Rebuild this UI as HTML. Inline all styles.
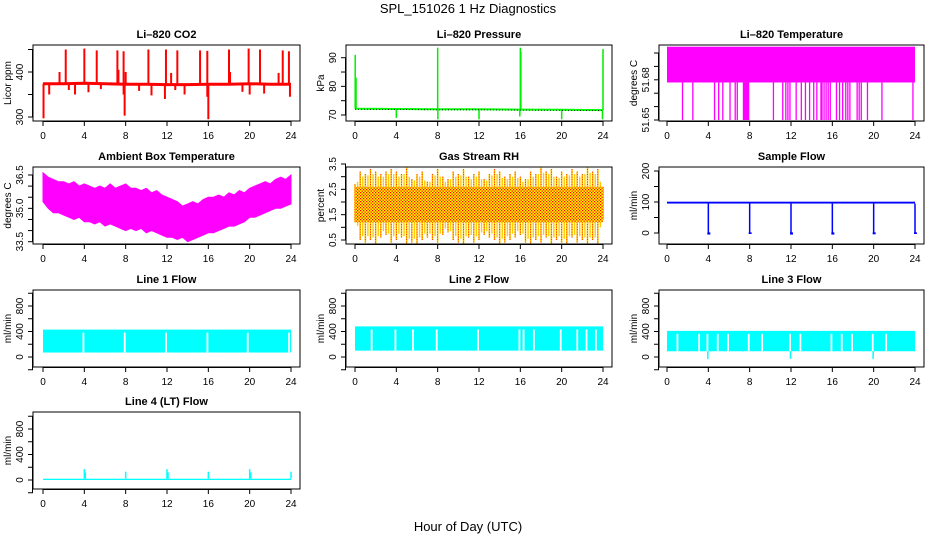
<!DOCTYPE html>
<html><head><meta charset="utf-8">
<style>
html,body{margin:0;padding:0;background:#fff;}
svg{display:block;font-family:"Liberation Sans",sans-serif;}
</style></head>
<body>
<svg id="fig" width="936" height="540" viewBox="0 0 936 540">
<defs>
<pattern id="rhpat" width="3" height="3" patternUnits="userSpaceOnUse">
<rect width="3" height="3" fill="#ffff00"/>
<rect x="0" y="0" width="1.3" height="1.3" fill="#ff0000"/>
<rect x="1.5" y="1.5" width="1.3" height="1.3" fill="#ff0000"/>
</pattern>
</defs>
<text x="468" y="13" text-anchor="middle" font-size="13">SPL_151026  1 Hz Diagnostics</text>
<text x="468" y="531" text-anchor="middle" font-size="13">Hour of Day (UTC)</text>
</svg>
<script>
// ---------- data ----------
const xTicks = [0,4,8,12,16,20,24];
// CO2
const co2BaseT = [0,2,4,6,8,10,12,14,16,18,20,22,24];
const co2Base = [374,374,375,374,373,373,372,372,373,373,374,373,373];
const co2SpikeT = [2.2,4.0,5.2,7.2,7.8,10.2,11.9,13.0,15.2,15.9,18.0,19.9,21.0,23.2,23.8,1.6,7.3,8.0,12.4,18.1,22.8,0.05,7.9,16.0,7.8,11.8,15.9,4.4,3.1,0.6,10.5,13.7,21.4,23.9,20.0,2.5,5.6,9.3,12.8,19.3];
const co2SpikeV = [450,452,448,448,446,450,450,448,448,447,450,452,450,448,446,400,405,400,398,400,398,297,303,295,350,340,345,355,350,350,348,350,352,345,350,360,362,358,360,356];
// Pressure
const presBaseT = [0,4,8,12,16,20,24];
const presBase = [72.2,72.1,72.0,72.0,71.9,71.8,71.7];
const presSpikeT = [0.02,0.1,8.0,16.0,16.05,24.0,4.0,8.02,12.0,15.95,20.0,23.95];
const presSpikeV = [91,83,93.5,93.5,92,93,69,68.5,68.5,69.5,68.5,68.5];
// Li-820 temperature
const ltBandLo = 51.678, ltBandHi = 51.7047;
const ltDipT = [1.5,2.5,4.6,5.0,5.4,6.1,6.6,6.8,7.4,7.5,7.6,7.7,7.8,7.9,10.3,11.2,11.5,11.7,11.9,12.5,13.0,13.4,13.8,14.2,14.5,14.9,15.0,15.2,15.4,15.6,15.8,16.4,16.7,17.0,17.3,17.5,17.7,18.4,18.6,18.8,19.4,20.8,23.8];
const ltDipV = 51.650;
// Ambient box temperature (every 0.5 h)
const ambHi = [36.6,36.4,36.3,36.2,36.2,36.1,36.2,36.0,36.1, 36.0,35.9,36.0,35.9,36.1,35.9,36.0,36.1, 35.9,35.9,35.8,35.9,35.7,35.8,35.6,35.5, 35.4,35.3,35.1,35.2,35.3,35.2,35.4,35.5, 35.5,35.6,35.5,35.7,35.6,35.8,35.7,35.9, 36.0,36.1,36.2,36.1,36.3,36.4,36.3,36.5];
const ambLo = [35.3,35.0,34.8,34.8,34.7,34.6,34.5,34.6,34.4, 34.4,34.3,34.4,34.2,34.3,34.2,34.1,34.0, 34.1,34.0,34.1,33.9,34.0,33.9,33.8,33.7, 33.7,33.6,33.7,33.5,33.6,33.7,33.8,33.9, 33.9,34.0,34.1,34.2,34.2,34.3,34.4,34.6, 34.6,34.7,34.8,34.9,35.0,35.0,35.1,35.2];
// Gas stream RH (every 0.5 h)
const rhCoreLo = 1.2, rhCoreHi = 2.6;
const rhHi = [2.7,3.2,3.1,3.3,3.2,3.1,3.2,3.3,3.2,3.1,3.4,2.9,3.1,3.2,2.8,3.1,3.3,3.0,2.9,3.2,3.1,3.3,3.0,3.1,3.2,2.9,3.1,3.3,3.2,3.0,3.1,3.2,3.0,2.9,3.2,3.1,3.4,3.2,3.3,3.0,3.2,3.1,3.3,3.2,3.1,3.4,3.2,3.3,2.6];
const rhLo = [1.2,0.5,0.4,0.5,0.3,0.6,0.7,0.4,0.5,0.6,0.3,0.4,0.3,0.5,0.6,0.5,0.4,0.7,0.8,0.5,0.4,0.3,0.6,0.4,0.5,0.7,0.6,0.5,0.3,0.4,0.5,0.6,0.7,0.4,0.3,0.5,0.4,0.6,0.3,0.5,0.4,0.3,0.6,0.4,0.5,0.3,0.5,0.3,1.3];
// Sample flow
const sfBandLo = 95, sfBandHi = 101;
const sfDipT = [4,8,12,16,20,24];
const sfDipV = [-5,-3,-5,-5,-4,-3];
// Line flows
const l1Lo = 70, l1Hi = 430, l1GapT = [3.9,7.9,11.9,15.9,19.8,23.8];
const l2Lo = 100, l2Hi = 480, l2GapT = [1.6,3.9,5.6,7.9,11.9,15.9,16.3,17.3,19.9,21.5,22.4,23.3];
const l3Lo = 90, l3Hi = 410, l3GapT = [1.0,3.1,3.9,4.9,5.9,7.9,9.2,11.9,12.9,15.9,16.9,17.9,19.9,21.2];
const l3DipT = [3.9,11.9,19.9], l3DipV = [-30,-30,-30];
const l4Lo = 0, l4Hi = 20;
const l4SpikeT = [4,4.1,8,12,12.1,16,20,20.1,24];
const l4SpikeV = [170,120,130,170,120,130,170,120,130];

// ---------- geometry ----------
const NS = "http://www.w3.org/2000/svg";
const svg = document.getElementById('fig');
const COLS = [[33,300,43,291],[346,612,355,603],[659,924,667,915]];
const ROWS = [[45,121],[167,244],[290,367],[412,489]];

function mk(tag, attrs, name, parent){
  const e = document.createElementNS(NS, tag);
  for (const k in attrs) e.setAttribute(k, attrs[k]);
  
  
  (parent || svg).appendChild(e);
  return e;
}

function panel(o){
  const c = COLS[o.col], r = ROWS[o.row];
  const g = mk('g', {}, o.id + '-panel');
  const xs = t => c[2] + (c[3]-c[2]) * t / 24;
  const ys = v => o.ym[1] + (v - o.ym[0]) * (o.ym[3]-o.ym[1]) / (o.ym[2]-o.ym[0]);
  const tt = mk('text', {x:(c[0]+c[1])/2, y:r[0]-7, 'text-anchor':'middle', 'font-size':11, 'font-weight':'bold'}, o.id + '-title', g);
  tt.textContent = o.title;
  const yt = mk('text', {x:0, y:0, 'text-anchor':'middle', 'font-size':10, transform:`translate(${c[0]-22},${(r[0]+r[1])/2}) rotate(-90)`}, o.id + '-y-axis-title', g);
  yt.textContent = o.ylab;
  const clipId = 'clip-' + o.id;
  const cp = mk('clipPath', {id:clipId}, o.id + '-clip', g);
  mk('rect', {x:c[0], y:r[0], width:c[1]-c[0], height:r[1]-r[0]}, o.id + '-clip-rect', cp);
  const pg = mk('g', {'clip-path':`url(#${clipId})`}, o.id + '-series', g);
  o.draw(pg, xs, ys);
  mk('rect', {x:c[0], y:r[0], width:c[1]-c[0], height:r[1]-r[0], fill:'none', stroke:'#000', 'stroke-width':1}, o.id + '-plot-box', g);
  mk('line', {x1:xs(0), x2:xs(24), y1:r[1]+0.5, y2:r[1]+0.5, stroke:'#000'}, o.id + '-x-axis-line', g);
  xTicks.forEach(t => {
    mk('line', {x1:xs(t), x2:xs(t), y1:r[1], y2:r[1]+5, stroke:'#000'}, o.id + '-x-tick', g);
    const l = mk('text', {x:xs(t), y:r[1]+18, 'text-anchor':'middle', 'font-size':10}, o.id + '-x-tick-label', g);
    l.textContent = t;
  });
  mk('line', {x1:c[0]-0.5, x2:c[0]-0.5, y1:ys(o.yt[0]), y2:ys(o.yt[o.yt.length-1]), stroke:'#000'}, o.id + '-y-axis-line', g);
  o.yt.forEach(v => {
    mk('line', {x1:c[0]-5, x2:c[0], y1:ys(v), y2:ys(v), stroke:'#000'}, o.id + '-y-tick', g);
  });
  o.yl.forEach((v, i) => {
    const l = mk('text', {x:0, y:0, 'text-anchor':'middle', 'font-size':10, transform:`translate(${c[0]-10},${ys(v)}) rotate(-90)`}, o.id + '-y-tick-label', g);
    l.textContent = o.ylt[i];
  });
}

function poly(pts){ return pts.map(p => p[0].toFixed(1)+','+p[1].toFixed(1)).join(' '); }

panel({id:'co2', title:'Li\u2013820 CO2', ylab:'Licor ppm', col:0, row:0, ym:[300,117,400,72],
  yt:[300,350,400,450], yl:[300,400], ylt:['300','400'],
  draw:(g,xs,ys)=>{
    co2SpikeT.forEach((t,i)=>{
      const bi = Math.min(co2BaseT.length-1, Math.round(t/2));
      mk('line',{x1:xs(t),x2:xs(t),y1:ys(co2Base[bi]),y2:ys(co2SpikeV[i]),stroke:'#ff0000','stroke-width':2},'co2-spike',g);
    });
    mk('polyline',{points:poly(co2BaseT.map((t,i)=>[xs(t),ys(co2Base[i])])),fill:'none',stroke:'#ff0000','stroke-width':3},'co2-line',g);
  }});

panel({id:'pressure', title:'Li\u2013820 Pressure', ylab:'kPa', col:1, row:0, ym:[70,115,90,57.7],
  yt:[70,75,80,85,90], yl:[70,80,90], ylt:['70','80','90'],
  draw:(g,xs,ys)=>{
    presSpikeT.forEach((t,i)=>{
      const bi = Math.min(presBaseT.length-1, Math.round(t/4));
      mk('line',{x1:xs(t),x2:xs(t),y1:ys(presBase[bi]),y2:ys(presSpikeV[i]),stroke:'#00ee00','stroke-width':1.5},'pressure-spike',g);
    });
    mk('polyline',{points:poly(presBaseT.map((t,i)=>[xs(t),ys(presBase[i])])),fill:'none',stroke:'#00ff00','stroke-width':2},'pressure-line',g);
    mk('polyline',{points:poly(presBaseT.map((t,i)=>[xs(t),ys(presBase[i])+0.5])),fill:'none',stroke:'#000','stroke-width':0.8,'stroke-dasharray':'1 2'},'pressure-dots',g);
  }});

panel({id:'licor-temp', title:'Li\u2013820 Temperature', ylab:'degrees C', col:2, row:0, ym:[51.65,120,51.70,53],
  yt:[51.65,51.66,51.67,51.68,51.69,51.70], yl:[51.65,51.68], ylt:['51.65','51.68'],
  draw:(g,xs,ys)=>{
    mk('rect',{x:xs(0),y:ys(ltBandHi),width:xs(24)-xs(0),height:ys(ltBandLo)-ys(ltBandHi),fill:'#ff00ff'},'licor-temp-band',g);
    ltDipT.forEach(t=>{
      mk('line',{x1:xs(t),x2:xs(t),y1:ys(ltBandLo),y2:ys(ltDipV),stroke:'#ff00ff','stroke-width':1.3},'licor-temp-dip',g);
    });
  }});

panel({id:'ambient-temp', title:'Ambient Box Temperature', ylab:'degrees C', col:0, row:1, ym:[33.5,241.7,36.5,175],
  yt:[33.5,34,34.5,35,35.5,36,36.5], yl:[33.5,35,36.5], ylt:['33.5','35.0','36.5'],
  draw:(g,xs,ys)=>{
    const top = ambHi.map((v,i)=>[xs(i*0.5),ys(v)]);
    const bot = ambLo.map((v,i)=>[xs(i*0.5),ys(v)]).reverse();
    mk('polygon',{points:poly(top.concat(bot)),fill:'#ff00ff',stroke:'#ff00ff','stroke-width':1},'ambient-temp-band',g);
    ambHi.forEach((v,i)=>{
      if(i>=ambHi.length-1) return;
      mk('line',{x1:xs(i*0.5+0.25),x2:xs(i*0.5+0.25),y1:ys(v-0.15),y2:ys(ambLo[i]+0.1),stroke:'#ff00ff','stroke-width':2},'ambient-temp-trace',g);
    });
  }});

panel({id:'rh', title:'Gas Stream RH', ylab:'percent', col:1, row:1, ym:[0.5,240,3.5,164],
  yt:[0.5,1,1.5,2,2.5,3,3.5], yl:[0.5,1.5,2.5,3.5], ylt:['0.5','1.5','2.5','3.5'],
  draw:(g,xs,ys)=>{
    rhHi.forEach((v,i)=>{
      const t = i*0.5;
      mk('line',{x1:xs(t),x2:xs(t),y1:ys(v),y2:ys(rhLo[i]),stroke:'#ffcc00','stroke-width':1.6},'rh-spike',g);
      mk('line',{x1:xs(t),x2:xs(t),y1:ys(v),y2:ys(rhLo[i]),stroke:'#ff0000','stroke-width':0.8,'stroke-dasharray':'1 1.5'},'rh-spike-dots',g);
      if(i<rhHi.length-1){
        const t2=t+0.25, h2=(v+rhHi[i+1])/2-0.15, l2=(rhLo[i]+rhLo[i+1])/2+0.2;
        mk('line',{x1:xs(t2),x2:xs(t2),y1:ys(h2),y2:ys(l2),stroke:'#ffcc00','stroke-width':1.4},'rh-spike',g);
      }
    });
    mk('rect',{x:xs(0),y:ys(rhCoreHi),width:xs(24)-xs(0),height:ys(rhCoreLo)-ys(rhCoreHi),fill:'url(#rhpat)'},'rh-band',g);
  }});

panel({id:'sample-flow', title:'Sample Flow', ylab:'ml/min', col:2, row:1, ym:[0,233,200,171],
  yt:[0,50,100,150,200], yl:[0,100,200], ylt:['0','100','200'],
  draw:(g,xs,ys)=>{
    mk('rect',{x:xs(0),y:ys(sfBandHi),width:xs(24)-xs(0),height:ys(sfBandLo)-ys(sfBandHi),fill:'#0000ff'},'sample-flow-band',g);
    sfDipT.forEach((t,i)=>{
      mk('line',{x1:xs(t),x2:xs(t),y1:ys(sfBandLo),y2:ys(sfDipV[i]),stroke:'#0000ff','stroke-width':1.5},'sample-flow-dip',g);
      mk('rect',{x:xs(t)-1,y:ys(2),width:3,height:ys(sfDipV[i])-ys(2),fill:'#0000ff'},'sample-flow-dip-end',g);
    });
  }});

function flowPanel(id, title, col, row, ym, lo, hi, gaps, extra){
  panel({id, title, ylab:'ml/min', col, row, ym,
    yt:[-200,0,200,400,600,800,1000], yl:[0,400,800], ylt:['0','400','800'],
    draw:(g,xs,ys)=>{
      mk('rect',{x:xs(0),y:ys(hi),width:xs(24)-xs(0),height:ys(lo)-ys(hi),fill:'#00ffff'},id+'-band',g);
      gaps.forEach(t=>{
        mk('rect',{x:xs(t)-0.8,y:ys(hi)+3,width:1.8,height:ys(lo)-ys(hi)-3,fill:'#ffffff'},id+'-gap',g);
      });
      if(extra) extra(g,xs,ys);
    }});
}
flowPanel('line1-flow','Line 1 Flow',0,2,[0,357,800,306],l1Lo,l1Hi,l1GapT);
flowPanel('line2-flow','Line 2 Flow',1,2,[0,357,800,306],l2Lo,l2Hi,l2GapT);
flowPanel('line3-flow','Line 3 Flow',2,2,[0,357,800,306],l3Lo,l3Hi,l3GapT,(g,xs,ys)=>{
  l3DipT.forEach((t,i)=>{
    mk('line',{x1:xs(t+0.05),x2:xs(t+0.05),y1:ys(l3Lo),y2:ys(l3DipV[i]),stroke:'#00ffff','stroke-width':1.5},'line3-flow-dip',g);
  });
});
flowPanel('line4-flow','Line 4 (LT) Flow',0,3,[0,480,800,429],l4Lo,l4Hi,[],(g,xs,ys)=>{
  l4SpikeT.forEach((t,i)=>{
    mk('line',{x1:xs(t),x2:xs(t),y1:ys(l4Hi),y2:ys(l4SpikeV[i]),stroke:'#00ffff','stroke-width':1.5},'line4-flow-spike',g);
  });
});
</script>
</body></html>
